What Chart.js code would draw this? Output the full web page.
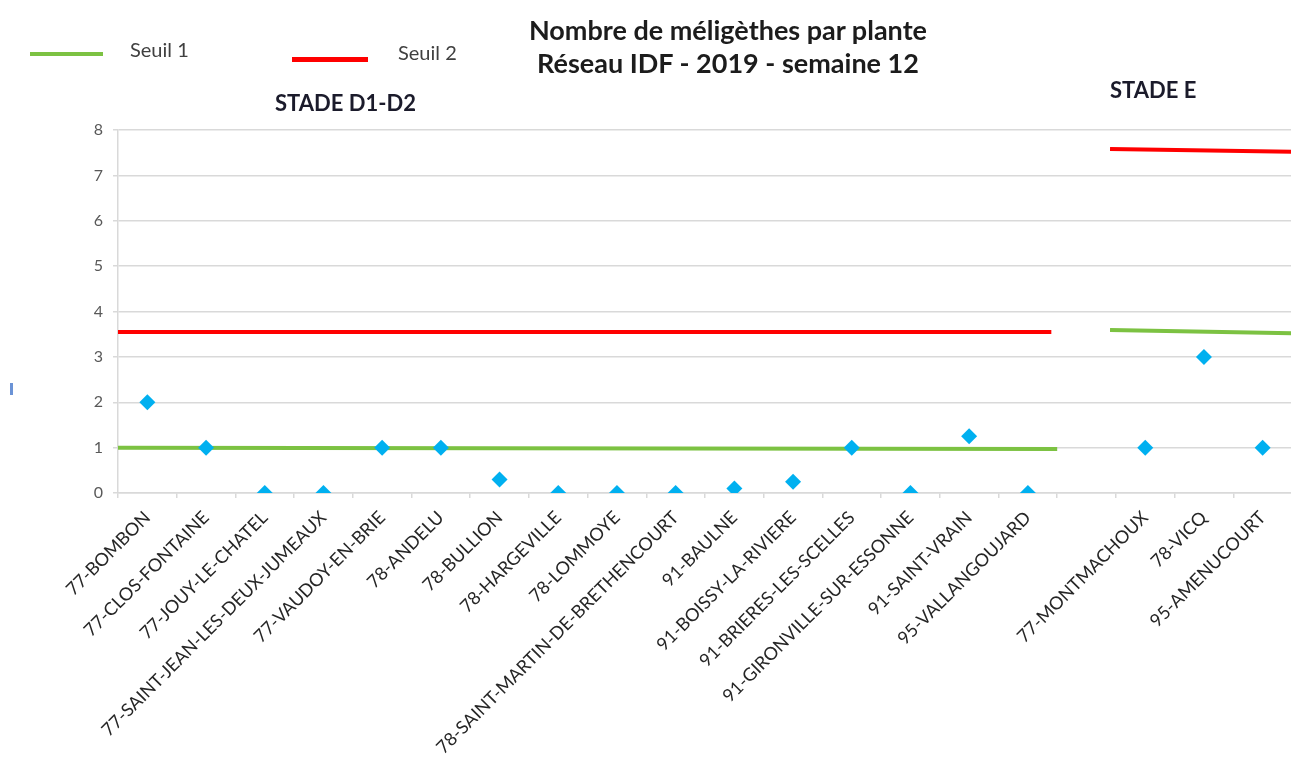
<!DOCTYPE html>
<html>
<head>
<meta charset="utf-8">
<script src="https://cdn.jsdelivr.net/npm/chart.js@4.4.1/dist/chart.umd.min.js"></script>
<style>
  html, body { margin: 0; padding: 0; background: #fff; width: 1291px; height: 762px; overflow: hidden; }
  #wrap { position: absolute; left: 0; top: 0; width: 1300px; height: 762px; }
  .txt { position: absolute; font-family: Lato, "Open Sans", sans-serif; white-space: nowrap; }
  #title { left: 0; width: 1456px; top: 13px; text-align: center; font-weight: bold; font-size: 27px; line-height: 33px; color: #1c1c1c; }
  .leg { font-size: 20px; line-height: 24px; color: #404040; }
  .stade { font-weight: bold; font-size: 22px; line-height: 26px; color: #1b1b2b; }
  .bar { position: absolute; }
</style>
</head>
<body>
<div id="wrap"><canvas id="chart" width="1300" height="762"></canvas></div>

<div id="title" class="txt">Nombre de méligèthes par plante<br>Réseau IDF - 2019 - semaine 12</div>

<div class="bar" style="left:30px;top:52px;width:73px;height:4px;background:#7cc242"></div>
<div class="txt leg" style="left:130px;top:37px">Seuil 1</div>
<div class="bar" style="left:292px;top:57px;width:76px;height:5px;background:#ff0000"></div>
<div class="txt leg" style="left:398px;top:40px">Seuil 2</div>

<div class="txt stade" style="left:275px;top:90px">STADE D1-D2</div>
<div class="txt stade" style="left:1110px;top:77px">STADE E</div>

<div class="bar" style="left:10px;top:383px;width:3px;height:12px;background:#6b93d6"></div>

<script>
// communes (one empty slot separates stade D1-D2 from stade E)
const categories = [
  '77-BOMBON', '77-CLOS-FONTAINE', '77-JOUY-LE-CHATEL', '77-SAINT-JEAN-LES-DEUX-JUMEAUX',
  '77-VAUDOY-EN-BRIE', '78-ANDELU', '78-BULLION', '78-HARGEVILLE', '78-LOMMOYE',
  '78-SAINT-MARTIN-DE-BRETHENCOURT', '91-BAULNE', '91-BOISSY-LA-RIVIERE',
  '91-BRIERES-LES-SCELLES', '91-GIRONVILLE-SUR-ESSONNE', '91-SAINT-VRAIN', '95-VALLANGOUJARD',
  '', '77-MONTMACHOUX', '78-VICQ', '95-AMENUCOURT'
];

// méligèthes par plante
const meligethes = [2, 1, 0, 0, 1, 1, 0.3, 0, 0, 0, 0.1, 0.25, 1, 0, 1.25, 0, null, 1, 3, 1];

// seuils: start/end in category units, value at start/end
const seuil1D1D2Pos = [0, 16];
const seuil1D1D2 = [1.0, 0.97];
const seuil2D1D2Pos = [0, 15.9];
const seuil2D1D2 = [3.55, 3.55];
const seuil1EPos = [16.9, 20];
const seuil1E = [3.59, 3.52];
const seuil2EPos = [16.9, 20];
const seuil2E = [7.58, 7.52];

const yTicks = [0, 1, 2, 3, 4, 5, 6, 7, 8];

const GREEN = '#7cc242';
const RED = '#ff0000';
const GRID = '#d9d9d9';

function seg(pos, vals) {
  return pos.map((p, i) => ({ x: p, y: vals[i] }));
}

function seuilSet(label, pos, vals, color, width) {
  return {
    label: label,
    xAxisID: 'xs',
    data: seg(pos, vals),
    borderColor: color,
    borderWidth: width,
    pointRadius: 0,
    fill: false,
    tension: 0,
    order: 2
  };
}

const ctx = document.getElementById('chart').getContext('2d');
new Chart(ctx, {
  type: 'line',
  data: {
    labels: categories,
    datasets: [
      seuilSet('Seuil 1', seuil1D1D2Pos, seuil1D1D2, GREEN, 4),
      seuilSet('Seuil 2', seuil2D1D2Pos, seuil2D1D2, RED, 4),
      seuilSet('Seuil 1', seuil1EPos, seuil1E, GREEN, 4),
      seuilSet('Seuil 2', seuil2EPos, seuil2E, RED, 4),
      {
        label: 'Méligèthes',
        xAxisID: 'x',
        data: meligethes,
        showLine: false,
        pointStyle: 'rectRot',
        pointRadius: 8,
        pointBackgroundColor: '#00b0f0',
        pointBorderWidth: 0,
        order: 1
      }
    ]
  },
  options: {
    responsive: false,
    animation: false,
    layout: { padding: { top: 130, right: 4, left: 0, bottom: 0 } },
    plugins: { legend: { display: false }, tooltip: { enabled: false }, title: { display: false } },
    scales: {
      x: {
        type: 'category',
        offset: true,
        grid: { offset: true, drawOnChartArea: false, drawTicks: true, tickLength: 5, color: GRID, lineWidth: 1.5 },
        border: { display: true, color: GRID, width: 1.5 },
        ticks: {
          autoSkip: false, minRotation: 45, maxRotation: 45, padding: 9,
          color: '#262626', font: { family: 'Lato', size: 18 }
        },
        afterFit: s => { s.height = 269; }
      },
      xs: { type: 'linear', display: false, min: 0, max: 20 },
      y: {
        min: 0, max: 8,
        afterBuildTicks: s => { s.ticks = yTicks.map(v => ({ value: v })); },
        grid: { color: GRID, lineWidth: 1.5, tickLength: 5 },
        border: { display: true, color: GRID, width: 1.5 },
        ticks: { color: '#595959', padding: 10, font: { family: 'Lato', size: 16 } },
        afterFit: s => { s.width = 118; }
      }
    }
  }
});
</script>
</body>
</html>
